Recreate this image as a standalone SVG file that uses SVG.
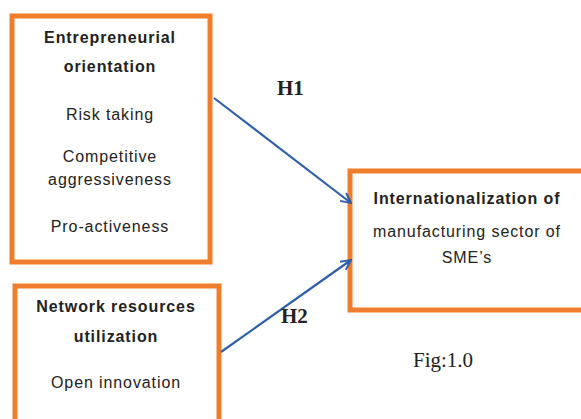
<svg xmlns="http://www.w3.org/2000/svg" width="581" height="419" viewBox="0 0 581 419">
<defs>
<style>
.box{fill:#fff;stroke:#F07D2B;stroke-width:5}
.t{font-family:"Liberation Sans","DejaVu Sans",sans-serif;font-size:16px;letter-spacing:0.9px;fill:#222;text-anchor:middle}
.b{font-weight:bold}
.s{font-family:"Liberation Serif","Times New Roman",serif;font-size:21px;fill:#222}
.c{stroke:#2E5FA8;stroke-width:2.2;fill:none}
</style>
<marker id="ah" viewBox="0 0 12 12" refX="11" refY="6" markerWidth="12" markerHeight="12" markerUnits="userSpaceOnUse" orient="auto">
<path d="M1,1 L11,6 L1,11" fill="none" stroke="#2E5FA8" stroke-width="2"/>
</marker>
</defs>
<rect width="581" height="419" fill="#fff"/>
<g id="node-eo">
<rect class="box" x="12" y="16" width="198" height="246"/>
<text class="t b" x="110" y="43">Entrepreneurial</text>
<text class="t b" x="110" y="72">orientation</text>
<text class="t" x="110" y="120">Risk taking</text>
<text class="t" x="110" y="162">Competitive</text>
<text class="t" x="110" y="185">aggressiveness</text>
<text class="t" x="110" y="232">Pro-activeness</text>
</g>
<g id="node-nr">
<rect class="box" x="15" y="286" width="204" height="140"/>
<text class="t b" x="116" y="312">Network resources</text>
<text class="t b" x="116" y="342">utilization</text>
<text class="t" x="116" y="388">Open innovation</text>
</g>
<g id="node-int">
<rect class="box" x="350" y="171" width="240" height="139"/>
<text class="t b" x="467" y="204">Internationalization of</text>
<text class="t" x="467" y="237">manufacturing sector of</text>
<text class="t" x="467" y="263">SME’s</text>
</g>
<g id="connectors">
<line class="c" x1="214" y1="98" x2="351" y2="203" marker-end="url(#ah)"/>
<line class="c" x1="221" y1="352" x2="351" y2="260" marker-end="url(#ah)"/>
</g>
<g id="labels">
<text class="s b" x="277" y="95">H1</text>
<text class="s b" x="281" y="323">H2</text>
<text class="s" x="413" y="367">Fig:1.0</text>
</g>
</svg>
